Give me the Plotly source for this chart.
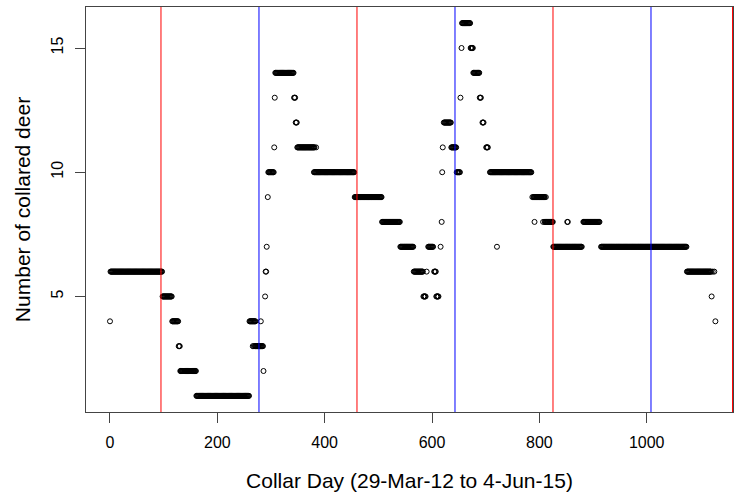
import plotly.graph_objects as go

# Runs of constant daily counts: (start day, end day, number of collared deer)
run_start = [0, 1, 98, 116, 128, 131, 161, 260, 266, 268, 270, 281, 286, 289, 290, 292, 294, 295,
             306, 307, 308, 343, 346, 349, 384, 380, 456, 507, 541, 566, 584, 590, 593, 604, 608,
             616, 618, 619, 620, 622, 636, 646, 653, 655, 656, 672, 677, 689, 694, 701, 708, 721,
             787, 789, 812, 791, 807, 810, 826, 852, 882, 915, 1075, 1123, 1126, 1121, 1128]
run_end = [0, 97, 115, 127, 130, 160, 259, 271, 266, 268, 285, 281, 286, 289, 291, 292, 294, 305,
           306, 307, 342, 345, 348, 381, 384, 455, 506, 540, 565, 583, 588, 590, 602, 607, 612,
           616, 618, 619, 620, 635, 645, 652, 653, 655, 671, 676, 688, 691, 696, 704, 785, 721,
           787, 810, 812, 791, 807, 825, 879, 853, 912, 1074, 1120, 1123, 1126, 1121, 1128]
run_value = [4, 6, 5, 4, 3, 2, 1, 4, 3, 3, 3, 4, 2, 5, 6, 7, 9, 10,
             11, 13, 14, 13, 12, 11, 11, 10, 9, 8, 7, 6, 5, 6, 7, 6, 5,
             7, 8, 10, 11, 12, 11, 10, 13, 15, 16, 15, 14, 13, 12, 11, 10, 7,
             9, 9, 9, 8, 8, 8, 7, 8, 8, 7, 6, 6, 6, 5, 4]

red_lines = [95.0, 460.2, 825.4, 1159.9]   # ~1 July of each year
blue_lines = [277.6, 642.8, 1008.0]        # ~1 January of each year

x_ticks = [0, 200, 400, 600, 800, 1000]
y_ticks = [5, 10, 15]

days, counts = [], []
for s, e, v in zip(run_start, run_end, run_value):
    for d in range(s, e + 1):
        days.append(d)
        counts.append(v)

fig = go.Figure()
fig.add_trace(go.Scatter(
    x=days, y=counts, mode="markers",
    marker=dict(symbol="circle-open", size=5, color="black", line=dict(width=1, color="black")),
    showlegend=False, hoverinfo="x+y", cliponaxis=False,
))

shapes = []
for xv in red_lines:
    shapes.append(dict(type="line", xref="x", yref="paper", x0=xv, x1=xv, y0=0, y1=1,
                       line=dict(color="#ff0000", width=1), layer="above"))
for xv in blue_lines:
    shapes.append(dict(type="line", xref="x", yref="paper", x0=xv, x1=xv, y0=0, y1=1,
                       line=dict(color="#0000ff", width=1), layer="above"))

font = "Liberation Sans, Arial, sans-serif"
fig.update_layout(
    width=734, height=497,
    margin=dict(l=86, r=1, t=7, b=85, autoexpand=False),
    paper_bgcolor="white", plot_bgcolor="white",
    shapes=shapes,
    font=dict(family=font, color="black"),
    xaxis=dict(
        range=[-44.7, 1160.8], tickvals=x_ticks, ticktext=[str(v) for v in x_ticks],
        ticks="outside", ticklen=10, tickcolor="#444", tickwidth=1,
        showline=True, mirror=True, linecolor="#444", linewidth=1,
        showgrid=False, zeroline=False, automargin=False,
        tickfont=dict(size=16, family=font), ticklabelstandoff=6,
        title=dict(text="Collar Day (29-Mar-12 to 4-Jun-15)", font=dict(size=21, family=font), standoff=23),
    ),
    yaxis=dict(
        range=[0.35, 16.65], tickvals=y_ticks, ticktext=[str(v) for v in y_ticks],
        ticks="outside", ticklen=10, tickcolor="#444", tickwidth=1,
        showline=True, mirror=True, linecolor="#444", linewidth=1,
        showgrid=False, zeroline=False, tickangle=-90, automargin=False,
        tickfont=dict(size=16, family=font), ticklabelstandoff=6,
        title=dict(text="Number of collared deer", font=dict(size=21, family=font), standoff=12),
    ),
)

fig.write_html("out.html", config={"displayModeBar": False},
               post_script="document.body.style.margin='0';")
